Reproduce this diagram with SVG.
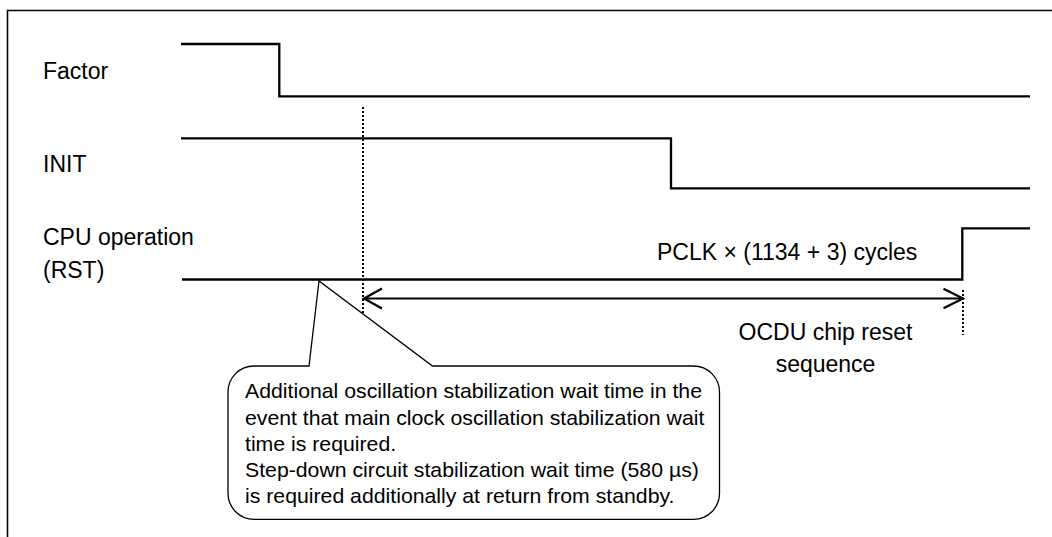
<svg xmlns="http://www.w3.org/2000/svg" width="1052" height="537" viewBox="0 0 1052 537">
<style>
.lbl{font-family:"Liberation Sans",Arial,sans-serif;font-size:23px;fill:#000}
.note{font-family:"Liberation Sans",Arial,sans-serif;font-size:20px;fill:#000}
.sig{fill:none;stroke:#000;stroke-width:2.3;stroke-linejoin:miter}
.dot{fill:none;stroke:#000;stroke-width:2;stroke-dasharray:2 2}
.arr{fill:none;stroke:#000;stroke-width:2.2}
</style>
<rect x="0" y="0" width="1052" height="537" fill="#fff"/>
<g id="frame">
<path d="M7.5,537 V10.5 H1052" fill="none" stroke="#000" stroke-width="1.6"/>
</g>
<g id="factor">
<text class="lbl" x="43" y="79.3">Factor</text>
<path class="sig" d="M181,44 H279.3 V96.3 H1030"/>
</g>
<g id="init">
<text class="lbl" x="43" y="172.3">INIT</text>
<path class="sig" d="M181,138.3 H671 V188.3 H1030"/>
</g>
<g id="cpu">
<text class="lbl" x="43" y="245">CPU operation</text>
<text class="lbl" x="43" y="278.3">(RST)</text>
<path class="sig" d="M182,279.5 H962.3 V228.3 H1030"/>
</g>
<g id="connectors">
<line class="dot" x1="363" y1="107" x2="363" y2="347"/>
<line class="dot" x1="963" y1="290" x2="963" y2="335"/>
<line class="arr" x1="364" y1="298.5" x2="963" y2="298.5"/>
<path class="arr" d="M382,288.5 L364,298.5 L382,308.5"/>
<path class="arr" d="M943.5,288.7 L963,298.5 L943.5,308.3"/>
</g>
<g id="pclk-label">
<text class="lbl" x="657" y="259.5">PCLK × (1134 + 3) cycles</text>
</g>
<g id="ocdu-label">
<text class="lbl" x="825.5" y="340" text-anchor="middle">OCDU chip reset</text>
<text class="lbl" x="825.5" y="371.7" text-anchor="middle">sequence</text>
</g>
<g id="callout">
<path d="M254,366 H309 L319,281 L432.5,366 H693.5 A26,26 0 0 1 719.5,392 V493.3 A26,26 0 0 1 693.5,519.3 H254 A26,26 0 0 1 228,493.3 V392 A26,26 0 0 1 254,366 Z" fill="#fff" stroke="#000" stroke-width="1.3" stroke-linejoin="miter"/>
<g transform="translate(245,0) scale(1.063,1)">
<text class="note" x="0" y="398.3">Additional oscillation stabilization wait time in the</text>
<text class="note" x="0" y="424.6">event that main clock oscillation stabilization wait</text>
<text class="note" x="0" y="450.9">time is required.</text>
<text class="note" x="0" y="477.2">Step-down circuit stabilization wait time (580 µs)</text>
<text class="note" x="0" y="503.5">is required additionally at return from standby.</text>
</g>
</g>
</svg>
